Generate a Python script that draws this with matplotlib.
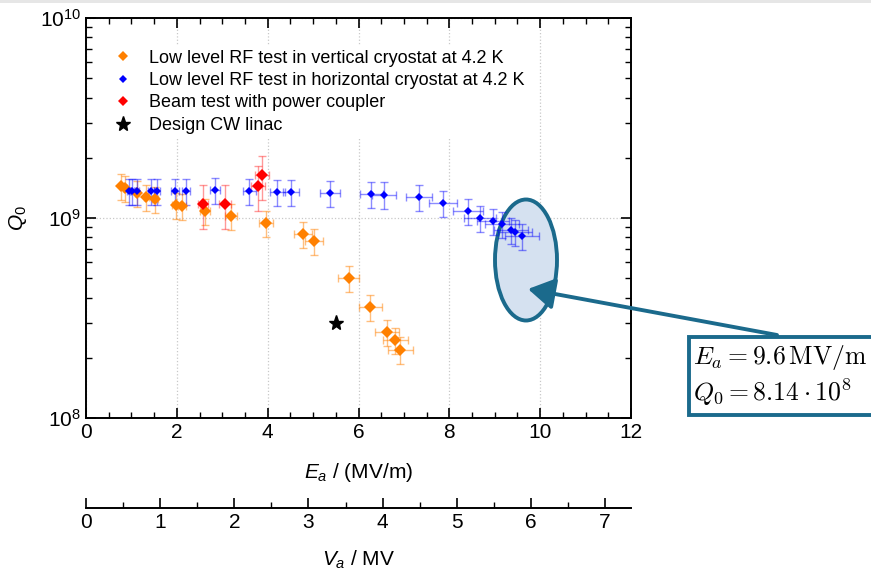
import matplotlib
matplotlib.use("Agg")
import matplotlib.pyplot as plt
from matplotlib.patches import Ellipse, Rectangle, FancyArrowPatch
from matplotlib.lines import Line2D
from matplotlib.ticker import MultipleLocator, LogLocator, NullFormatter
import numpy as np

plt.rcParams['font.family'] = ['Liberation Sans', 'DejaVu Sans']
plt.rcParams['mathtext.fontset'] = 'custom'
plt.rcParams['mathtext.rm'] = 'Liberation Sans'
plt.rcParams['mathtext.it'] = 'Liberation Sans:italic'

# ---- data ----
vert_E = [0.77, 0.86, 1.13, 1.33, 1.52, 1.98, 2.11, 2.62, 3.19, 3.96, 4.78, 5.02, 5.79, 6.26, 6.63, 6.81, 6.92]
vert_Q = [1.45e9, 1.41e9, 1.33e9, 1.27e9, 1.24e9, 1.16e9, 1.15e9, 1.08e9, 1.02e9, 9.4e8,
          8.3e8, 7.7e8, 5.0e8, 3.6e8, 2.7e8, 2.45e8, 2.2e8]

horiz_E = [0.95, 1.01, 1.12, 1.43, 1.56, 1.96, 2.20, 2.84, 3.59, 4.21, 4.52, 5.37, 6.28, 6.57,
           7.33, 7.86, 8.41, 8.68, 8.96, 9.16, 9.36, 9.45, 9.60]
horiz_Q = [1.37e9, 1.37e9, 1.37e9, 1.37e9, 1.37e9, 1.37e9, 1.37e9, 1.38e9, 1.37e9, 1.35e9,
           1.35e9, 1.33e9, 1.32e9, 1.31e9, 1.27e9, 1.19e9, 1.08e9, 1.0e9, 0.97e9, 0.93e9,
           0.87e9, 0.85e9, 8.14e8]

beam_E = [2.58, 3.06, 3.79, 3.88]
beam_Q = [1.175e9, 1.175e9, 1.45e9, 1.64e9]

design_E = [5.5]
design_Q = [3.0e8]

# relative uncertainties
relerr_E = 0.04
relerr_Q_vert = 0.15
relerr_Q_horiz = 0.15
relerr_Q_beam = 0.25

labels = ["Low level RF test in vertical cryostat at 4.2 K",
          "Low level RF test in horizontal cryostat at 4.2 K",
          "Beam test with power coupler",
          "Design CW linac"]

L_eff = 0.6125  # m, V_a = E_a * L_eff

c_orange = '#ff8000'
c_blue = '#0000ff'
c_red = '#ff0000'
c_teal = '#1b6a8c'

fig = plt.figure(figsize=(8.71, 5.74), dpi=100)
fig.patches.append(Rectangle((0, 1 - 3 / 574), 1, 3 / 574, transform=fig.transFigure,
                             facecolor='#e6e6e6', edgecolor='none', zorder=0))
ax = fig.add_axes([86 / 871, 1 - 418 / 574, 545 / 871, 400 / 574])


def draw(E, Q, rq, color, ms, ealpha):
    E = np.asarray(E)
    Q = np.asarray(Q)
    ax.errorbar(E, Q, xerr=relerr_E * E, yerr=rq * Q, fmt='none', ecolor=color,
                alpha=ealpha, elinewidth=1.0, capsize=3, capthick=1.0, zorder=2)
    ax.plot(E, Q, 'D', color=color, markersize=ms, markeredgewidth=0, zorder=3)


draw(vert_E, vert_Q, relerr_Q_vert, c_orange, 6, 0.5)
draw(horiz_E, horiz_Q, relerr_Q_horiz, c_blue, 4.5, 0.45)
draw(beam_E, beam_Q, relerr_Q_beam, c_red, 6, 0.4)
ax.plot(design_E, design_Q, '*', color='black', markersize=11, zorder=4)

ax.set_yscale('log')
ax.set_xlim(0, 12)
ax.set_ylim(1e8, 1e10)
ax.xaxis.set_major_locator(MultipleLocator(2))
ax.xaxis.set_minor_locator(MultipleLocator(0.5))
ax.yaxis.set_major_locator(LogLocator(base=10, numticks=10))
ax.yaxis.set_minor_locator(LogLocator(base=10, subs=np.arange(2, 10), numticks=20))
ax.yaxis.set_minor_formatter(NullFormatter())
ax.tick_params(which='both', direction='in', top=True, right=True, labelsize=15)
ax.tick_params(which='major', length=7, width=1.2)
ax.tick_params(which='minor', length=4, width=1.0)
for s in ax.spines.values():
    s.set_linewidth(1.4)
ax.grid(True, which='major', linestyle=':', color='#c8c8c8', linewidth=0.9)
ax.set_axisbelow(True)

ax.set_xlabel(r'$E_a$ / (MV/m)', fontsize=15, labelpad=14)
ax.set_ylabel(r'$Q_0$', fontsize=15, labelpad=8)

# secondary axis (accelerating voltage)
sec = ax.secondary_xaxis(-0.225, functions=(lambda e: e * L_eff, lambda v: v / L_eff))
sec.xaxis.set_major_locator(MultipleLocator(1))
sec.xaxis.set_minor_locator(MultipleLocator(0.5))
sec.tick_params(which='both', direction='in', labelsize=15)
sec.tick_params(which='major', length=7, width=1.2)
sec.tick_params(which='minor', length=4, width=1.0)
sec.spines['bottom'].set_linewidth(1.4)
sec.set_xlabel(r'$V_a$ / MV', fontsize=15, labelpad=12)

# legend
handles = [Line2D([], [], linestyle='none', marker='D', color=c_orange, markersize=5.5, markeredgewidth=0),
           Line2D([], [], linestyle='none', marker='D', color=c_blue, markersize=4.5, markeredgewidth=0),
           Line2D([], [], linestyle='none', marker='D', color=c_red, markersize=5.5, markeredgewidth=0),
           Line2D([], [], linestyle='none', marker='*', color='black', markersize=11)]
leg = ax.legend(handles, labels, loc='upper left', bbox_to_anchor=(0.045, 0.93), fontsize=13,
                frameon=True, facecolor='white', edgecolor='none', framealpha=1,
                handlelength=1.0, handletextpad=0.95, labelspacing=0.3, borderaxespad=0,
                borderpad=0.2)
leg.set_zorder(5)

# annotation: ellipse, arrow and box
ell = Ellipse((440 / 545, 158 / 400), 62 / 545, 121 / 400, transform=ax.transAxes,
              facecolor='#d5e1f0', edgecolor=c_teal, linewidth=2.8, zorder=1.8)
ax.add_patch(ell)

arrow = FancyArrowPatch((777 / 871, 1 - 335 / 574), (528 / 871, 1 - 289 / 574),
                        transform=fig.transFigure, arrowstyle='-|>,head_length=10,head_width=6',
                        mutation_scale=1.6, color=c_teal, linewidth=2.8, zorder=7,
                        shrinkA=0, shrinkB=0)
fig.patches.append(arrow)

box = Rectangle((689 / 871, 1 - 415 / 574), 0.3, 78 / 574, transform=fig.transFigure,
                facecolor='white', edgecolor=c_teal, linewidth=2.8, zorder=8)
fig.patches.append(box)
fig.text(693 / 871, 1 - 358 / 574, r'$E_a = 9.6\,\mathrm{MV/m}$', fontsize=18.5,
         math_fontfamily='cm', va='center', ha='left', zorder=9)
fig.text(693 / 871, 1 - 392 / 574, r'$Q_0 = 8.14\cdot10^8$', fontsize=18.5,
         math_fontfamily='cm', va='center', ha='left', zorder=9)

fig.savefig('out.png', dpi=100)
